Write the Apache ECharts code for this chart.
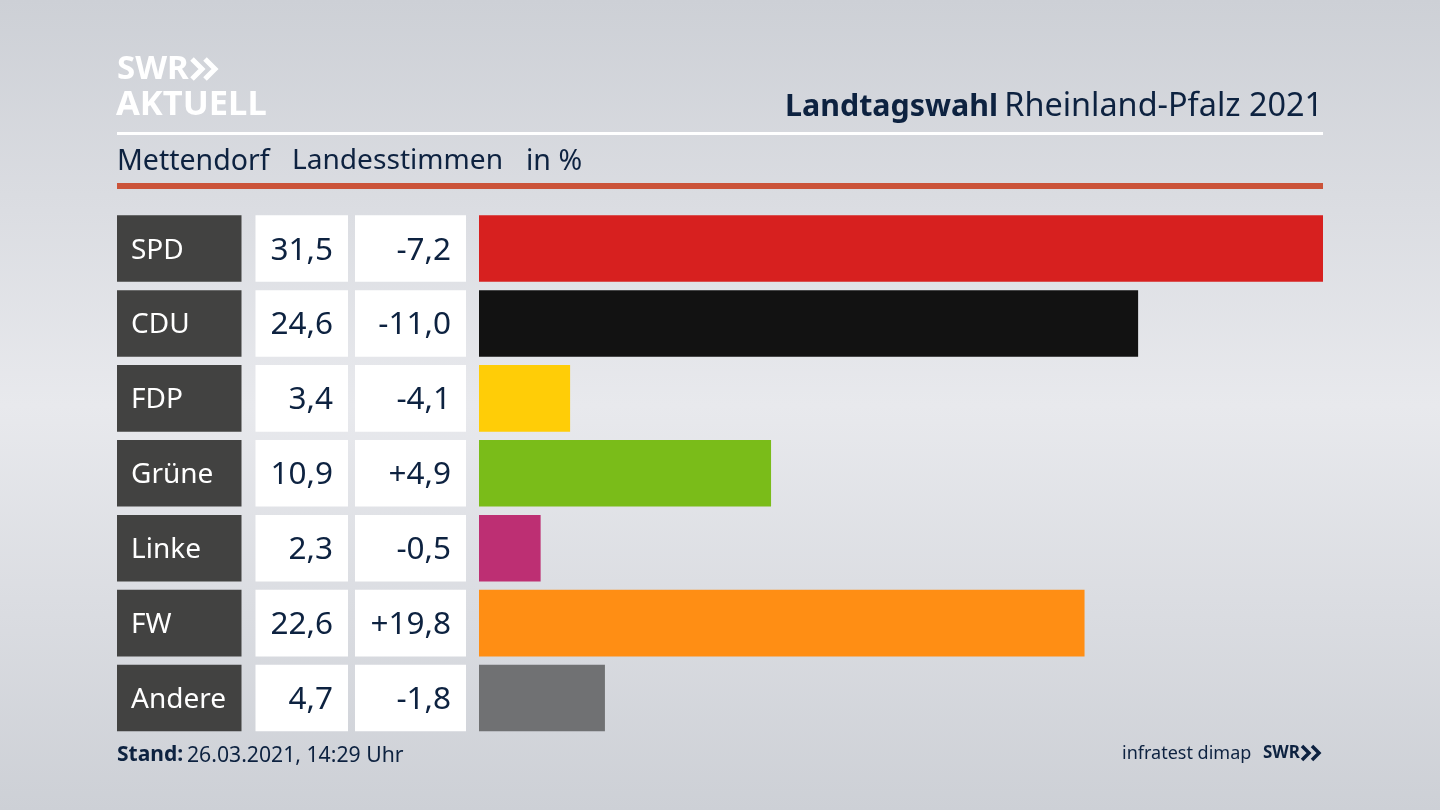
<!DOCTYPE html>
<html>
<head>
<meta charset="utf-8">
<style>html,body{margin:0;padding:0;background:#dcdee3}#chart{width:1440px;height:810px}</style>
<script src="https://cdn.jsdelivr.net/npm/echarts@6/dist/echarts.min.js"></script>
</head>
<body>
<div id="chart"></div>
<script>
var parties = ["SPD", "CDU", "FDP", "Grüne", "Linke", "FW", "Andere"];
var shares = [31.5, 24.6, 3.4, 10.9, 2.3, 22.6, 4.7];
var changes = [-7.2, -11.0, -4.1, 4.9, -0.5, 19.8, -1.8];
var partyColors = ["#d7201f", "#121212", "#ffcd07", "#7abc19", "#bd2f73", "#ff8e14", "#707173"];

var FONT = "Noto Sans";
var NAVY = "#0d2240";
var rowTop = 211.1, rowsHeight = 524.4;

function comma(v, signed) {
  var s = Math.abs(v).toFixed(1).replace(".", ",");
  if (v < 0) return "-" + s;
  return signed ? "+" + s : s;
}

// one grid per table column, all sharing the same rows
var columns = [
  { left: 117, width: 124.5 },
  { left: 255.5, width: 92.5 },
  { left: 355, width: 111 },
  { left: 479, width: 844 }
];
var grids = columns.map(function (c) {
  return { left: c.left, width: c.width, top: rowTop, height: rowsHeight };
});
var xAxes = columns.map(function (c, i) {
  return { type: "value", gridIndex: i, min: 0, max: i == 3 ? 31.5 : 1, show: false };
});
var yAxes = columns.map(function (c, i) {
  return { type: "category", gridIndex: i, data: parties, inverse: true, show: false };
});

function cells(color, valueOf) {
  return parties.map(function (p, i) {
    return { value: 1, label: { formatter: valueOf(i) }, itemStyle: { color: color } };
  });
}
var cellBar = 66.6;

function plainTitle(text, left, top, size, weight, color) {
  return {
    text: text, left: left, top: top, padding: 0,
    textStyle: { fontFamily: FONT, fontSize: size, fontWeight: weight, color: color }
  };
}

var option = {
  animation: false,
  backgroundColor: new echarts.graphic.LinearGradient(0, 0, 0, 1, [
    { offset: 0, color: "#cdd0d6" },
    { offset: 0.5, color: "#e8e9ed" },
    { offset: 1, color: "#cdd0d6" }
  ]),
  textStyle: { fontFamily: FONT },
  grid: grids,
  xAxis: xAxes,
  yAxis: yAxes,
  title: [
    plainTitle("Landtagswahl", 785, 92, 30.4, "bold", NAVY),
    {
      text: "Rheinland-Pfalz 2021",
      right: 117, top: 91, padding: 0,
      textStyle: { fontFamily: FONT, fontSize: 32.4, fontWeight: "normal", color: NAVY }
    },
    plainTitle("Mettendorf", 117, 147, 28.5, "normal", NAVY),
    plainTitle("Landesstimmen", 292, 147, 28.1, "normal", NAVY),
    plainTitle("in %", 526, 147, 28.5, "normal", NAVY),
    plainTitle("Stand:", 117, 745, 21, "bold", NAVY),
    plainTitle("26.03.2021, 14:29 Uhr", 187, 745, 21.2, "normal", NAVY),
    plainTitle("infratest dimap", 1122, 745, 18, "normal", NAVY),
    plainTitle("SWR", 1263, 745, 17, "bold", NAVY),
    plainTitle("SWR", 117, 53, 33, "bold", "#ffffff"),
    plainTitle("AKTUELL", 116, 88, 34.5, "bold", "#ffffff")
  ],
  graphic: [
    { type: "rect", shape: { x: 117, y: 132, width: 1206, height: 3 }, style: { fill: "#ffffff" } },
    { type: "rect", shape: { x: 117, y: 183, width: 1206, height: 6 }, style: { fill: "#cb5339" } },
    // logo chevrons
    { type: "polyline", shape: { points: [[192, 59], [202, 69], [192, 79]] }, style: { fill: "none", stroke: "#fff", lineWidth: 5 } },
    { type: "polyline", shape: { points: [[205, 59], [215, 69], [205, 79]] }, style: { fill: "none", stroke: "#fff", lineWidth: 5 } },
    { type: "polyline", shape: { points: [[1302, 746], [1309, 753], [1302, 760]] }, style: { fill: "none", stroke: NAVY, lineWidth: 3.5 } },
    { type: "polyline", shape: { points: [[1312, 746], [1319, 753], [1312, 760]] }, style: { fill: "none", stroke: NAVY, lineWidth: 3.5 } }
  ],
  series: [
    {
      type: "bar", xAxisIndex: 0, yAxisIndex: 0, barWidth: cellBar, silent: true,
      data: cells("#424241", function (i) { return parties[i]; }),
      label: { show: true, position: "insideLeft", distance: 14, offset: [0, 2], fontFamily: FONT, fontSize: 28, color: "#ffffff" }
    },
    {
      type: "bar", xAxisIndex: 1, yAxisIndex: 1, barWidth: cellBar, silent: true,
      data: cells("#ffffff", function (i) { return comma(shares[i], false); }),
      label: { show: true, position: "insideRight", distance: 15, offset: [0, 2], fontFamily: FONT, fontSize: 31.5, color: NAVY }
    },
    {
      type: "bar", xAxisIndex: 2, yAxisIndex: 2, barWidth: cellBar, silent: true,
      data: cells("#ffffff", function (i) { return comma(changes[i], true); }),
      label: { show: true, position: "insideRight", distance: 15, offset: [0, 2], fontFamily: FONT, fontSize: 31.5, color: NAVY }
    },
    {
      type: "bar", xAxisIndex: 3, yAxisIndex: 3, barWidth: cellBar, silent: true,
      data: shares.map(function (v, i) {
        return { value: v, itemStyle: { color: partyColors[i] } };
      })
    }
  ]
};

var chart = echarts.init(document.getElementById("chart"));
chart.setOption(option);
</script>
</body>
</html>
